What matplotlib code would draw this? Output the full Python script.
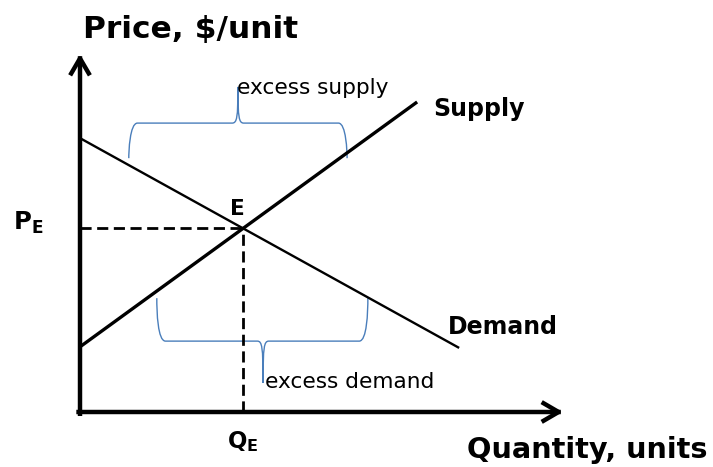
import numpy as np
import matplotlib
matplotlib.use("Agg")
import matplotlib.pyplot as plt
from matplotlib.path import Path
from matplotlib.patches import PathPatch

plt.rcParams["font.family"] = ["DejaVu Sans"]
plt.rcParams["mathtext.fontset"] = "dejavusans"

# axis extents (quantity, price)
q_max, p_max = 10.0, 10.0

# curve end points (quantity, price)
supply_q = [0.0, 6.98]
supply_p = [1.82, 8.66]
demand_q = [0.0, 7.85]
demand_p = [7.65, 1.79]

# braces: q_left, q_right, q_tip, p_end, p_mid, p_tip
brace_surplus = (1.01, 5.53, 3.27, 7.09, 8.07, 9.08)
brace_shortage = (1.59, 5.96, 3.79, 3.18, 1.98, 0.81)

# equilibrium from the two lines
s_slope = (supply_p[1] - supply_p[0]) / (supply_q[1] - supply_q[0])
d_slope = (demand_p[1] - demand_p[0]) / (demand_q[1] - demand_q[0])
q_e = (demand_p[0] - supply_p[0]) / (s_slope - d_slope)
p_e = supply_p[0] + s_slope * q_e

W, H = 713, 467
fig = plt.figure(figsize=(W / 100, H / 100), dpi=100)
ax = fig.add_axes([80 / W, (H - 412) / H, 483 / W, 358 / H])
ax.set_xlim(0, q_max)
ax.set_ylim(0, p_max)
ax.axis("off")

# axes with open arrow heads
arrow = dict(arrowstyle="->,head_length=0.6,head_width=0.35", lw=3.2,
             color="black", shrinkA=0, shrinkB=0, mutation_scale=18,
             capstyle="projecting")
ax.annotate("", xy=(0, p_max), xytext=(0, -0.05), arrowprops=arrow,
            annotation_clip=False)
ax.annotate("", xy=(q_max, 0), xytext=(-0.03, 0), arrowprops=arrow,
            annotation_clip=False)

ax.plot(supply_q, supply_p, color="black", lw=2.4, solid_capstyle="butt")
ax.plot(demand_q, demand_p, color="black", lw=1.7, solid_capstyle="butt")

ax.plot([0, q_e], [p_e, p_e], color="black", lw=2, ls=(0, (4, 2)))
ax.plot([q_e, q_e], [0, p_e], color="black", lw=2, ls=(0, (4, 2)))


def brace(q0, q1, qt, pe, pm, pt, rq=0.18, tq=0.12):
    sgn = np.sign(pe - pm)
    verts = [
        (q0, pe),
        (q0, pm + sgn * 0.8), (q0 + 0.02, pm), (q0 + rq, pm),
        (qt - tq, pm),
        (qt - 0.02, pm), (qt, pm - sgn * 0.15), (qt, pt),
        (qt, pm - sgn * 0.15), (qt + 0.02, pm), (qt + tq, pm),
        (q1 - rq, pm),
        (q1 - 0.02, pm), (q1, pm + sgn * 0.8), (q1, pe),
    ]
    codes = [Path.MOVETO,
             Path.CURVE4, Path.CURVE4, Path.CURVE4,
             Path.LINETO,
             Path.CURVE4, Path.CURVE4, Path.CURVE4,
             Path.CURVE4, Path.CURVE4, Path.CURVE4,
             Path.LINETO,
             Path.CURVE4, Path.CURVE4, Path.CURVE4]
    ax.add_patch(PathPatch(Path(verts, codes), fc="none", ec="#4a7ebb",
                           lw=1.0, clip_on=False))


brace(*brace_surplus)
brace(*brace_shortage)

ax.text(0.06, 10.45, "Price, $/unit", fontsize=22.5, fontweight="bold",
        ha="left", va="baseline", clip_on=False)
ax.text(13.0, -1.28, "Quantity, units", fontsize=20.7, fontweight="bold",
        ha="right", va="baseline", clip_on=False)
ax.text(7.31, 8.27, "Supply", fontsize=17, fontweight="bold",
        ha="left", va="baseline")
ax.text(7.62, 2.18, "Demand", fontsize=17, fontweight="bold",
        ha="left", va="baseline")
ax.text(q_e - 0.12, p_e + 0.38, "E", fontsize=15.5, fontweight="bold",
        ha="center", va="baseline")
ax.text(-1.39, p_e - 0.05, r"$\mathbf{P_E}$", fontsize=17.5,
        ha="left", va="baseline", clip_on=False)
ax.text(q_e, -1.0, r"$\mathbf{Q_E}$", fontsize=16.5,
        ha="center", va="baseline", clip_on=False)
ax.text(3.25, 8.88, "excess supply", fontsize=15.6,
        ha="left", va="baseline")
ax.text(3.83, 0.67, "excess demand", fontsize=15.6,
        ha="left", va="baseline")

fig.savefig("out.png", dpi=100, facecolor="white")
